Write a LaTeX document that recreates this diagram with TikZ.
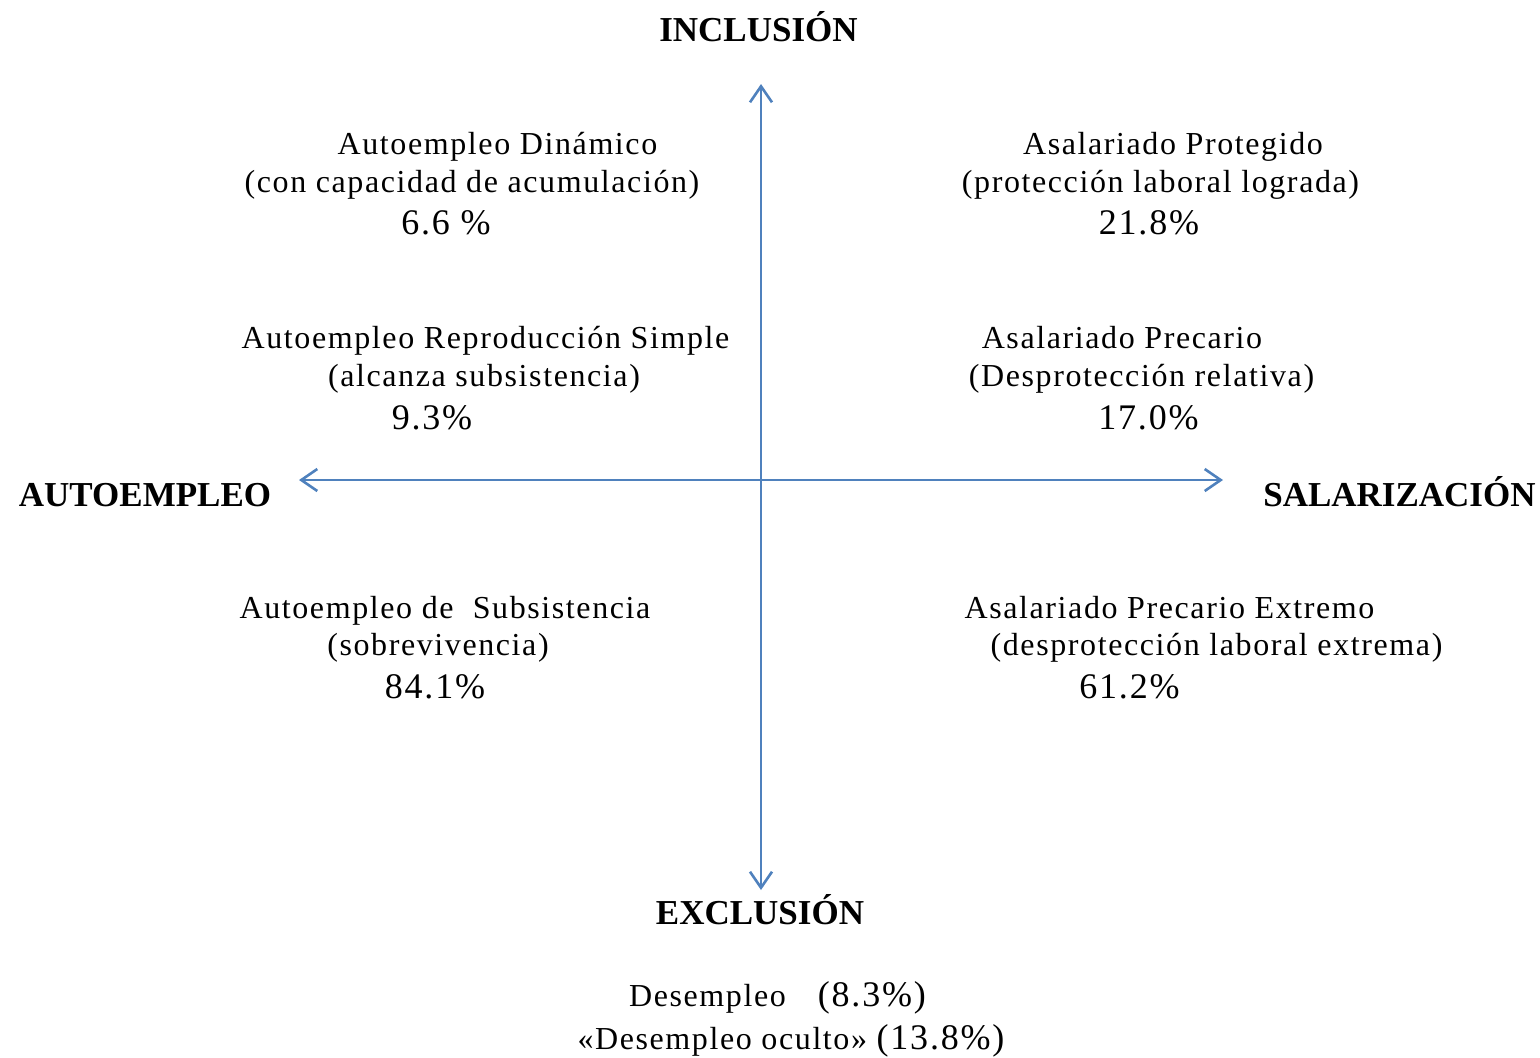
\documentclass[tikz,border=0pt]{standalone}
\usepackage{fontspec}
\setmainfont{Liberation Serif}[LetterSpace=5]
\usetikzlibrary{arrows.meta}
\definecolor{axisblue}{HTML}{4F81BD}
\begin{document}
\begin{tikzpicture}[x=0.5pt,y=-0.5pt,
  txt/.style={anchor=base,inner sep=0pt,font=\fontsize{16pt}{19pt}\selectfont},
  pct/.style={anchor=base,inner sep=0pt,font=\fontsize{18pt}{21pt}\selectfont},
  hdr/.style={anchor=base,inner sep=0pt,font=\fontsize{17.5pt}{20pt}\selectfont\bfseries\addfontfeature{LetterSpace=0}},
  axis/.style={draw=axisblue,line width=1.3pt,{Straight Barb[length=8pt,width=11pt]}-{Straight Barb[length=8pt,width=11pt]}}]
\useasboundingbox (0,0) rectangle (1540,1057);
% axes
\coordinate (top) at (761,84);
\coordinate (bot) at (761,890);
\coordinate (lft) at (299,480);
\coordinate (rgt) at (1223,480);
\draw[axis] (top) -- (bot);
\draw[axis] (lft) -- (rgt);
% headers
\node[hdr] (inc) at (758.5,41) {INCLUSIÓN};
\node[hdr] (aut) at (145,506) {AUTOEMPLEO};
\node[hdr] (sal) at (1399.5,506) {SALARIZACIÓN};
\node[hdr] (exc) at (760,924) {EXCLUSIÓN};
% top-left
\node[txt] (a1) at (497.5,154) {Autoempleo Dinámico};
\node[txt] (a2) at (472,192) {(con capacidad de acumulación)};
\node[pct] (a3) at (446,234) {6.6 \%};
% top-right
\node[txt] (b1) at (1173,154) {Asalariado Protegido};
\node[txt] (b2) at (1160.5,192) {(protección laboral lograda)};
\node[pct] (b3) at (1149,234) {21.8\%};
% mid-left
\node[txt] (c1) at (485.5,348) {Autoempleo Reproducción Simple};
\node[txt] (c2) at (484,386) {(alcanza subsistencia)};
\node[pct] (c3) at (432,429) {9.3\%};
% mid-right
\node[txt] (d1) at (1122,348) {Asalariado Precario};
\node[txt] (d2) at (1141.5,386) {(Desprotección relativa)};
\node[pct] (d3) at (1148.5,429) {17.0\%};
% bottom-left
\node[txt] (e1) at (445,618) {Autoempleo de\ \ Subsistencia};
\node[txt] (e2) at (438,655) {(sobrevivencia)};
\node[pct] (e3) at (435,698) {84.1\%};
% bottom-right
\node[txt] (f1) at (1169.5,618) {Asalariado Precario Extremo};
\node[txt] (f2) at (1216.5,655) {(desprotección laboral extrema)};
\node[pct] (f3) at (1129.5,698) {61.2\%};
% unemployment
\node[txt] (g1) at (777.5,1006) {Desempleo\hspace{16pt}{\fontsize{18pt}{21pt}\selectfont(8.3\%)}};
\node[txt] (g2) at (791,1049) {«Desempleo oculto» {\fontsize{18pt}{21pt}\selectfont(13.8\%)}};
\end{tikzpicture}
\end{document}
